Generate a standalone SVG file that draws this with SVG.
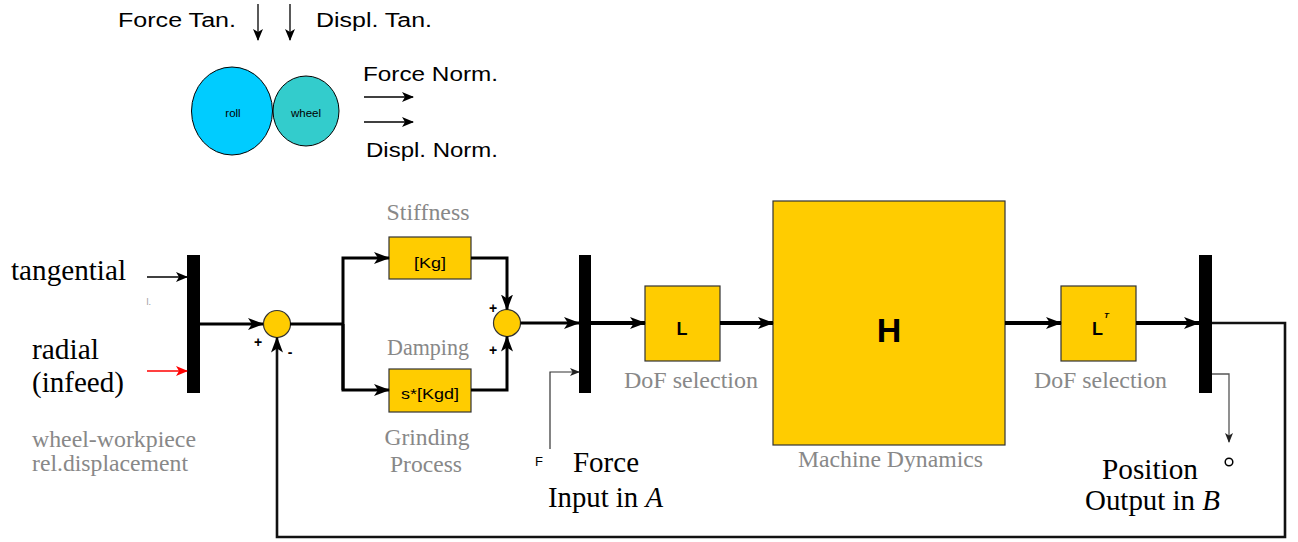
<svg xmlns="http://www.w3.org/2000/svg" width="1298" height="542" viewBox="0 0 1298 542">
<style>
.sans{font-family:"Liberation Sans",Arial,sans-serif;fill:#000}
.serif{font-family:"Liberation Serif","Times New Roman",serif;fill:#000;font-size:29px}
.gray{font-family:"Liberation Serif","Times New Roman",serif;fill:#888;font-size:23px}
.sign{font-family:"Liberation Sans",Arial,sans-serif;fill:#000;font-size:14px;font-weight:bold}
.blk{fill:#FFCC00;stroke:#333;stroke-width:1.2}
.bar{fill:#000}
.w3{fill:none;stroke:#000;stroke-width:3}
.w4{fill:none;stroke:#000;stroke-width:4}
.thin{fill:none;stroke:#000;stroke-width:1.3}
</style>
<defs>
<marker id="ah" markerUnits="userSpaceOnUse" markerWidth="16" markerHeight="12" refX="15" refY="6" orient="auto"><path d="M0,0 L16,6 L0,12 L4,6 z" fill="#000"/></marker>
<marker id="ahs" markerUnits="userSpaceOnUse" markerWidth="12" markerHeight="10" refX="11" refY="5" orient="auto"><path d="M0,0 L12,5 L0,10 L3,5 z" fill="#000"/></marker>
<marker id="ahr" markerUnits="userSpaceOnUse" markerWidth="12" markerHeight="10" refX="11" refY="5" orient="auto"><path d="M0,0 L12,5 L0,10 L3,5 z" fill="#f00"/></marker>
<marker id="ahx" markerUnits="userSpaceOnUse" markerWidth="10" markerHeight="8" refX="9" refY="4" orient="auto"><path d="M0,0 L10,4 L0,8 L2.5,4 z" fill="#222"/></marker>
</defs>
<rect width="1298" height="542" fill="#fff"/>

<g id="contact-sketch">
<text class="sans" x="118" y="27" font-size="19.5" textLength="118" lengthAdjust="spacingAndGlyphs">Force Tan.</text>
<text class="sans" x="316" y="27" font-size="19.5" textLength="116" lengthAdjust="spacingAndGlyphs">Displ. Tan.</text>
<line class="thin" x1="258" y1="4" x2="258" y2="40" marker-end="url(#ahs)"/>
<line class="thin" x1="290" y1="4" x2="290" y2="40" marker-end="url(#ahs)"/>
<ellipse cx="232" cy="111" rx="40.5" ry="44" fill="#00CCFF" stroke="#000" stroke-width="1"/>
<ellipse cx="306" cy="111" rx="33" ry="35" fill="#33CCCC" stroke="#000" stroke-width="1"/>
<text class="sans" x="233" y="117" font-size="11.5" text-anchor="middle">roll</text>
<text class="sans" x="306" y="117" font-size="11.5" text-anchor="middle">wheel</text>
<text class="sans" x="363" y="81" font-size="19.5" textLength="135" lengthAdjust="spacingAndGlyphs">Force Norm.</text>
<text class="sans" x="366" y="157" font-size="19.5" textLength="132" lengthAdjust="spacingAndGlyphs">Displ. Norm.</text>
<line class="thin" x1="364" y1="97" x2="413" y2="97" marker-end="url(#ahs)"/>
<line class="thin" x1="364" y1="122" x2="413" y2="122" marker-end="url(#ahs)"/>
</g>

<g id="input-labels">
<text class="serif" x="11" y="280" textLength="115" lengthAdjust="spacingAndGlyphs">tangential</text>
<text class="sans" x="146.5" y="305" font-size="9" style="fill:#999">l.</text>
<text class="serif" x="32" y="359" textLength="67" lengthAdjust="spacingAndGlyphs">radial</text>
<text class="serif" x="32" y="392" textLength="92" lengthAdjust="spacingAndGlyphs">(infeed)</text>
<text class="gray" x="32" y="447" textLength="164" lengthAdjust="spacingAndGlyphs">wheel-workpiece</text>
<text class="gray" x="32" y="471" textLength="156" lengthAdjust="spacingAndGlyphs">rel.displacement</text>
</g>

<g id="mux-in"><rect class="bar" x="187" y="255" width="13" height="138"/></g>

<g id="sum1">
<circle class="blk" cx="277" cy="324" r="13.5"/>
<text class="sign" x="258" y="347" text-anchor="middle">+</text>
<text class="sign" x="290" y="357" text-anchor="middle">-</text>
</g>

<g id="kg">
<text class="gray" x="428" y="220" text-anchor="middle" textLength="83" lengthAdjust="spacingAndGlyphs">Stiffness</text>
<rect class="blk" x="389" y="237" width="82" height="42"/>
<text class="sans" x="430" y="268" font-size="15" text-anchor="middle" textLength="32" lengthAdjust="spacingAndGlyphs">[Kg]</text>
</g>

<g id="kgd">
<text class="gray" x="428" y="355" text-anchor="middle" textLength="82" lengthAdjust="spacingAndGlyphs">Damping</text>
<rect class="blk" x="389" y="369" width="82" height="43"/>
<text class="sans" x="430" y="399" font-size="15" text-anchor="middle" textLength="58" lengthAdjust="spacingAndGlyphs">s*[Kgd]</text>
<text class="gray" x="427" y="445" text-anchor="middle" textLength="85" lengthAdjust="spacingAndGlyphs">Grinding</text>
<text class="gray" x="426" y="472" text-anchor="middle" textLength="72" lengthAdjust="spacingAndGlyphs">Process</text>
</g>

<g id="sum2">
<circle class="blk" cx="507" cy="323" r="13.5"/>
<text class="sign" x="493" y="313" text-anchor="middle">+</text>
<text class="sign" x="493" y="355" text-anchor="middle">+</text>
</g>

<g id="mux-force">
<rect class="bar" x="579" y="255" width="12" height="138"/>
<text class="sans" x="535" y="466" font-size="13">F</text>
<text class="serif" x="573" y="472" textLength="66" lengthAdjust="spacingAndGlyphs">Force</text>
<text class="serif" x="548" y="507" textLength="115" lengthAdjust="spacingAndGlyphs">Input in <tspan font-style="italic">A</tspan></text>
</g>

<g id="L">
<rect class="blk" x="645" y="286" width="75" height="75"/>
<text class="sans" x="682" y="335" font-size="18" font-weight="bold" text-anchor="middle">L</text>
<text class="gray" x="624" y="388" textLength="134" lengthAdjust="spacingAndGlyphs">DoF selection</text>
</g>

<g id="H">
<rect class="blk" x="773" y="201" width="232" height="244"/>
<text class="sans" x="889" y="342" font-size="34" font-weight="bold" text-anchor="middle">H</text>
<text class="gray" x="798" y="467" textLength="185" lengthAdjust="spacingAndGlyphs">Machine Dynamics</text>
</g>

<g id="LT">
<rect class="blk" x="1061" y="286" width="75" height="75"/>
<text class="sans" x="1092" y="335" font-size="18" font-weight="bold">L<tspan x="1104" y="318" font-size="8" font-style="italic">T</tspan></text>
<text class="gray" x="1034" y="388" textLength="133" lengthAdjust="spacingAndGlyphs">DoF selection</text>
</g>

<g id="mux-out">
<rect class="bar" x="1199" y="255" width="13" height="138"/>
<circle cx="1229" cy="462" r="3.8" fill="none" stroke="#000" stroke-width="1.5"/>
<text class="serif" x="1102" y="479" textLength="96" lengthAdjust="spacingAndGlyphs">Position</text>
<text class="serif" x="1085" y="510" textLength="135" lengthAdjust="spacingAndGlyphs">Output in <tspan font-style="italic">B</tspan></text>
</g>

<g id="connectors">
<line x1="147" y1="277" x2="187" y2="277" stroke="#000" stroke-width="1.5" marker-end="url(#ahs)"/>
<line x1="147" y1="371" x2="187" y2="371" stroke="#f00" stroke-width="1.5" marker-end="url(#ahr)"/>
<line class="w3" x1="200" y1="324" x2="263" y2="324" marker-end="url(#ah)"/>
<polyline class="w3" points="290,324 343,324"/>
<polyline class="w3" points="343,390 343,258 389,258" marker-end="url(#ah)"/>
<polyline class="w3" points="343,324 343,390 389,390" marker-end="url(#ah)"/>
<polyline class="w3" points="471,258 507,258 507,309.5" marker-end="url(#ah)"/>
<polyline class="w3" points="471,390 507,390 507,336.5" marker-end="url(#ah)"/>
<line class="w3" x1="520.5" y1="323" x2="579" y2="323" marker-end="url(#ah)"/>
<polyline fill="none" stroke="#333" stroke-width="1.2" points="550,449 550,372 579,372" marker-end="url(#ahx)"/>
<line class="w4" x1="591" y1="323" x2="645" y2="323" marker-end="url(#ah)"/>
<line class="w4" x1="720" y1="323" x2="773" y2="323" marker-end="url(#ah)"/>
<line class="w4" x1="1005" y1="323" x2="1061" y2="323" marker-end="url(#ah)"/>
<line class="w4" x1="1136" y1="323" x2="1199" y2="323" marker-end="url(#ah)"/>
<polyline fill="none" stroke="#555" stroke-width="1.3" points="1212,374 1229,374 1229,442" marker-end="url(#ahx)"/>
<polyline fill="none" stroke="#111" stroke-width="2.6" points="1212,323 1285,323 1285,537 277,537 277,337.5" marker-end="url(#ah)"/>
</g>
</svg>
